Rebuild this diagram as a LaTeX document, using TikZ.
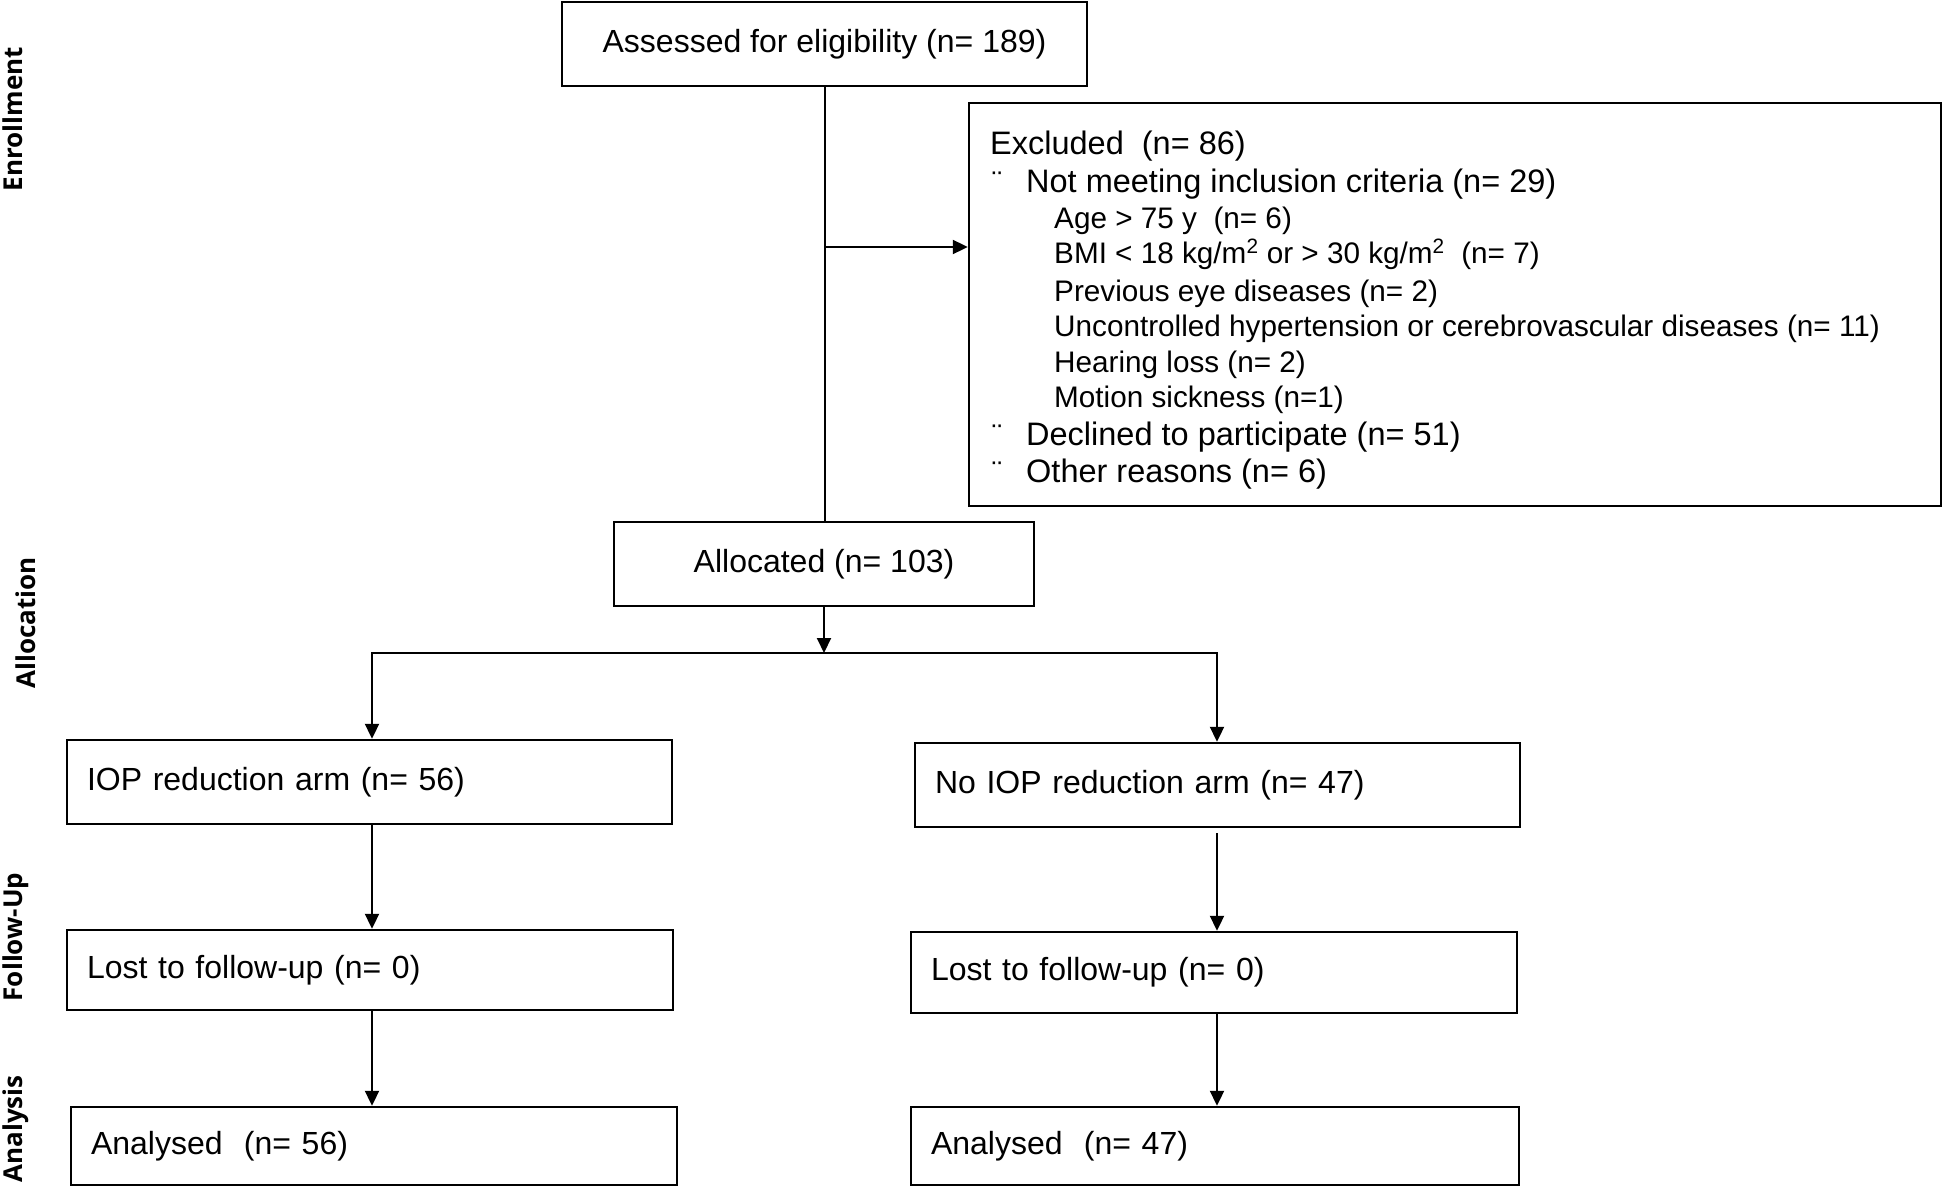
\documentclass[tikz,border=0pt]{standalone}
\usepackage{fontspec}
\setmainfont{Liberation Sans}
\newfontfamily\labfont{Open Sans}
\usetikzlibrary{arrows.meta}
\tikzset{
 boxs/.style={draw, line width=2.4pt, inner xsep=20pt, inner ysep=0pt, font=\fontsize{32pt}{38pt}\selectfont},
 lbox/.style={boxs, align=left},
 conn/.style={line width=2pt},
 arr/.style={conn, -{Triangle[length=15pt,width=14pt]}},
 phase/.style={rotate=90, anchor=base, inner sep=0pt, font=\labfont\bfseries\fontsize{26pt}{30pt}\selectfont},
 exmain/.style={anchor=base west, inner sep=0pt, font=\fontsize{32.5pt}{38pt}\selectfont},
 exsub/.style={anchor=base west, inner sep=0pt, font=\fontsize{29.7pt}{36pt}\selectfont},
 bul/.style={anchor=base west, inner sep=0pt, font=\fontsize{30pt}{34pt}\selectfont},
}
\begin{document}
\begin{tikzpicture}[x=1pt,y=-1pt]
\useasboundingbox (0,0) rectangle (1944,1188);
% main boxes
\node[boxs, minimum width=525pt, minimum height=84pt] (assess) at (824.5,44) {Assessed for eligibility (n= 189)};
\node[boxs, minimum width=972pt, minimum height=403pt] (excl) at (1455,304.5) {};
\node[boxs, minimum width=420pt, minimum height=84pt] (alloc) at (824,564) {Allocated (n= 103)};
% left column
\node[lbox, text width=565pt, minimum height=84pt] (iop) at (369.5,782) {IOP reduction arm (n= 56)};
\node[lbox, text width=566pt, minimum height=80pt] (lost1) at (370,970) {Lost to follow-up (n= 0)};
\node[lbox, text width=566pt, minimum height=78pt] (ana1) at (374,1146) {Analysed\ \ (n= 56)};
% right column
\node[lbox, text width=565pt, minimum height=84pt] (noiop) at (1217.5,785) {No IOP reduction arm (n= 47)};
\node[lbox, text width=566pt, minimum height=81pt] (lost2) at (1214,972.5) {Lost to follow-up (n= 0)};
\node[lbox, text width=568pt, minimum height=78pt] (ana2) at (1215,1146) {Analysed\ \ (n= 47)};
% excluded text
\node[exmain] (e1) at (990,154) {Excluded\ \ (n= 86)};
\node[bul] (b1) at (992,192) {¨};
\node[exmain] (e2) at (1026,192) {Not meeting inclusion criteria (n= 29)};
\node[exsub] (e3) at (1054,228) {Age > 75 y\ \ (n= 6)};
\node[exsub] (e4) at (1054,263) {BMI < 18 kg/m\textsuperscript{2} or > 30 kg/m\textsuperscript{2}\ \ (n= 7)};
\node[exsub] (e5) at (1054,301) {Previous eye diseases (n= 2)};
\node[exsub] (e6) at (1054,336) {Uncontrolled hypertension or cerebrovascular diseases (n= 11)};
\node[exsub] (e7) at (1054,372) {Hearing loss (n= 2)};
\node[exsub] (e8) at (1054,407) {Motion sickness (n=1)};
\node[bul] (b2) at (992,445) {¨};
\node[exmain] (e9) at (1026,445) {Declined to participate (n= 51)};
\node[bul] (b3) at (992,482) {¨};
\node[exmain] (e10) at (1026,482) {Other reasons (n= 6)};
% phase labels
\node[phase] (p1) at (23,119) {Enrollment};
\node[phase] (p2) at (35,623) {Allocation};
\node[phase] (p3) at (23,937) {Follow-Up};
\node[phase] (p4) at (22,1129) {Analysis};
% connectors
\coordinate (lx) at (372,0);
\coordinate (rx) at (1217,0);
\coordinate (j1) at (824.5,247);
\coordinate (split) at (824.5,653);
\draw[conn] (assess.south) -- (assess.south |- alloc.north);
\draw[arr] (j1) -- (j1 -| excl.west);
\draw[arr] (alloc.south) -- (alloc.south |- split);
\draw[arr] (split) -| (iop.north -| lx);
\draw[arr] (split) -| (noiop.north -| rx);
\draw[arr] (iop.south -| lx) -- (lost1.north -| lx);
\draw[arr] ([yshift=-5pt]noiop.south -| rx) -- (lost2.north -| rx);
\draw[arr] (lost1.south -| lx) -- (ana1.north -| lx);
\draw[arr] (lost2.south -| rx) -- (ana2.north -| rx);
\end{tikzpicture}
\end{document}
